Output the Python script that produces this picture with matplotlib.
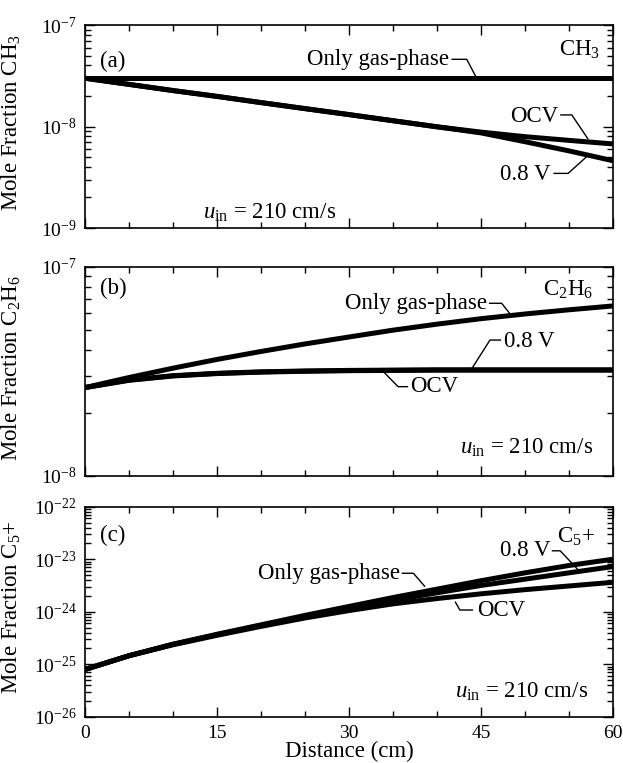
import numpy as np
import matplotlib
matplotlib.use("Agg")
import matplotlib.pyplot as plt
from matplotlib.ticker import LogLocator, MultipleLocator, NullFormatter, LogFormatterMathtext

plt.rcParams['font.family'] = ['Liberation Serif', 'DejaVu Serif']
plt.rcParams['mathtext.fontset'] = 'custom'
plt.rcParams['mathtext.rm'] = 'Liberation Serif'
plt.rcParams['mathtext.it'] = 'Liberation Serif:italic'
plt.rcParams['mathtext.bf'] = 'Liberation Serif:bold'

# ---------------- data ----------------
distance = [0, 5, 10, 15, 20, 25, 30, 35, 40, 45, 50, 55, 60]

# (a) CH3
ch3_gas = [2.98e-8] * 13
ch3_ocv = [2.99e-8, 2.60e-8, 2.26e-8, 1.98e-8, 1.72e-8, 1.50e-8, 1.31e-8,
           1.14e-8, 9.93e-9, 8.81e-9, 7.94e-9, 7.30e-9, 6.73e-9]
ch3_08v = [2.99e-8, 2.60e-8, 2.26e-8, 1.98e-8, 1.72e-8, 1.50e-8, 1.31e-8,
           1.14e-8, 9.93e-9, 8.65e-9, 7.08e-9, 5.75e-9, 4.60e-9]

# (b) C2H6
c2h6_gas = [2.64e-8, 2.95e-8, 3.27e-8, 3.60e-8, 3.93e-8, 4.27e-8, 4.61e-8,
            4.97e-8, 5.31e-8, 5.64e-8, 5.94e-8, 6.22e-8, 6.49e-8]
c2h6_ocv = [2.64e-8, 2.86e-8, 3.00e-8, 3.08e-8, 3.13e-8, 3.16e-8, 3.18e-8,
            3.19e-8, 3.20e-8, 3.20e-8, 3.20e-8, 3.20e-8, 3.20e-8]
c2h6_08v = [2.64e-8, 2.87e-8, 3.01e-8, 3.09e-8, 3.14e-8, 3.17e-8, 3.19e-8,
            3.20e-8, 3.21e-8, 3.21e-8, 3.21e-8, 3.21e-8, 3.21e-8]

# (c) C5+
c5_gas = [7.94e-26, 1.45e-25, 2.40e-25, 3.72e-25, 5.62e-25, 8.51e-25, 1.26e-24,
          1.86e-24, 2.69e-24, 3.89e-24, 5.50e-24, 7.59e-24, 1.00e-23]
c5_08v = [7.94e-26, 1.45e-25, 2.40e-25, 3.63e-25, 5.50e-25, 7.94e-25, 1.15e-24,
          1.66e-24, 2.29e-24, 3.16e-24, 4.17e-24, 5.50e-24, 7.24e-24]
c5_ocv = [7.94e-26, 1.45e-25, 2.34e-25, 3.55e-25, 5.25e-25, 7.59e-25, 1.05e-24,
          1.41e-24, 1.78e-24, 2.19e-24, 2.63e-24, 3.09e-24, 3.63e-24]

x_ticks = [0, 15, 30, 45, 60]
x_ticklabels = ["0", "15", "30", "45", "60"]

# ---------------- figure ----------------
W, H = 623, 763
fig = plt.figure(figsize=(W / 100, H / 100), dpi=100)

left = 85 / W
width = 528 / W
ax_a = fig.add_axes([left, 1 - 228 / H, width, 203 / H])
ax_b = fig.add_axes([left, 1 - 475.7 / H, width, 209 / H])
ax_c = fig.add_axes([left, 1 - 716.7 / H, width, 210 / H])

LW = 3.6
LEAD = 1.0
FS_LAB = 16.5
FS_TXT = 16.5
FS_TICK = 14


def style(ax, ylim, ylabel, ylab_y, show_x):
    ax.set_yscale('log')
    ax.set_xlim(0, 60)
    ax.set_ylim(*ylim)
    ax.xaxis.set_major_locator(MultipleLocator(15))
    ax.xaxis.set_minor_locator(MultipleLocator(5))
    ax.yaxis.set_major_locator(LogLocator(base=10, numticks=20))
    ax.yaxis.set_minor_locator(LogLocator(base=10, subs=np.arange(2, 10), numticks=20))
    ax.yaxis.set_minor_formatter(NullFormatter())
    ax.yaxis.set_major_formatter(LogFormatterMathtext())
    ax.tick_params(which='both', direction='in', top=True, right=True, width=1.0,
                   labelsize=FS_TICK, color='black')
    ax.tick_params(which='major', length=7, pad=6)
    ax.tick_params(which='minor', length=4)
    for s in ax.spines.values():
        s.set_linewidth(1.2)
    ax.set_xticks(x_ticks)
    if show_x:
        ax.set_xticklabels(x_ticklabels)
        ax.set_xlabel("Distance (cm)", fontsize=FS_LAB, labelpad=-1)
    else:
        ax.set_xticklabels([])
    ax.set_ylabel(ylabel, fontsize=FS_LAB)
    ax.yaxis.set_label_coords(-0.117, ylab_y)


def leader(ax, pts):
    xs = [p[0] for p in pts]
    ys = [p[1] for p in pts]
    ax.plot(xs, ys, color='black', lw=LEAD, transform=ax.transAxes, clip_on=False,
            solid_capstyle='butt')


# ---- (a) ----
ax = ax_a
ax.plot(distance, ch3_gas, color='black', lw=LW)
ax.plot(distance, ch3_ocv, color='black', lw=LW)
ax.plot(distance, ch3_08v, color='black', lw=LW)
style(ax, (1e-9, 1e-7), r"Mole Fraction CH$_3$", 0.52, False)
ax.text(0.028, 0.822, "(a)", transform=ax.transAxes, fontsize=FS_TXT, ha='left', va='center')
ax.text(0.975, 0.877, r"CH$_3$", transform=ax.transAxes, fontsize=FS_TXT, ha='right', va='center')
ax.text(0.689, 0.83, "Only gas-phase", transform=ax.transAxes, fontsize=FS_TXT, ha='right', va='center')
leader(ax, [(0.694, 0.831), (0.723, 0.831), (0.742, 0.737)])
ax.text(0.896, 0.548, "OCV", transform=ax.transAxes, fontsize=FS_TXT, ha='right', va='center')
leader(ax, [(0.9, 0.557), (0.922, 0.557), (0.953, 0.437)])
ax.text(0.881, 0.262, "0.8 V", transform=ax.transAxes, fontsize=FS_TXT, ha='right', va='center')
leader(ax, [(0.887, 0.269), (0.915, 0.269), (0.95, 0.351)])
ax.text(0.223, 0.075, r"$u_{\mathrm{in}}$ = 210 cm/s", transform=ax.transAxes, fontsize=FS_TXT,
        ha='left', va='center')

# ---- (b) ----
ax = ax_b
ax.plot(distance, c2h6_gas, color='black', lw=LW)
ax.plot(distance, c2h6_ocv, color='black', lw=LW)
ax.plot(distance, c2h6_08v, color='black', lw=LW)
style(ax, (1e-8, 1e-7), r"Mole Fraction C$_2$H$_6$", 0.515, False)
ax.text(0.028, 0.897, "(b)", transform=ax.transAxes, fontsize=FS_TXT, ha='left', va='center')
ax.text(0.962, 0.889, r"C$_2$H$_6$", transform=ax.transAxes, fontsize=FS_TXT, ha='right', va='center')
ax.text(0.761, 0.825, "Only gas-phase", transform=ax.transAxes, fontsize=FS_TXT, ha='right', va='center')
leader(ax, [(0.765, 0.825), (0.789, 0.825), (0.808, 0.765)])
ax.text(0.794, 0.641, "0.8 V", transform=ax.transAxes, fontsize=FS_TXT, ha='left', va='center')
leader(ax, [(0.788, 0.649), (0.767, 0.649), (0.732, 0.51)])
ax.text(0.616, 0.426, "OCV", transform=ax.transAxes, fontsize=FS_TXT, ha='left', va='center')
leader(ax, [(0.612, 0.426), (0.593, 0.426), (0.565, 0.498)])
ax.text(0.962, 0.131, r"$u_{\mathrm{in}}$ = 210 cm/s", transform=ax.transAxes, fontsize=FS_TXT,
        ha='right', va='center')

# ---- (c) ----
ax = ax_c
ax.plot(distance, c5_gas, color='black', lw=LW)
ax.plot(distance, c5_08v, color='black', lw=LW)
ax.plot(distance, c5_ocv, color='black', lw=LW)
style(ax, (1e-26, 1e-22), r"Mole Fraction C$_5$+", 0.524, True)
ax.text(0.028, 0.865, "(c)", transform=ax.transAxes, fontsize=FS_TXT, ha='left', va='center')
ax.text(0.966, 0.857, r"C$_5$+", transform=ax.transAxes, fontsize=FS_TXT, ha='right', va='center')
ax.text(0.881, 0.79, "0.8 V", transform=ax.transAxes, fontsize=FS_TXT, ha='right', va='center')
leader(ax, [(0.884, 0.79), (0.9, 0.79), (0.933, 0.702)])
ax.text(0.597, 0.683, "Only gas-phase", transform=ax.transAxes, fontsize=FS_TXT, ha='right', va='center')
leader(ax, [(0.6, 0.683), (0.622, 0.683), (0.644, 0.619)])
ax.text(0.742, 0.508, "OCV", transform=ax.transAxes, fontsize=FS_TXT, ha='left', va='center')
leader(ax, [(0.735, 0.508), (0.71, 0.508), (0.701, 0.548)])
ax.text(0.953, 0.119, r"$u_{\mathrm{in}}$ = 210 cm/s", transform=ax.transAxes, fontsize=FS_TXT,
        ha='right', va='center')

fig.savefig("out.png", dpi=100)
